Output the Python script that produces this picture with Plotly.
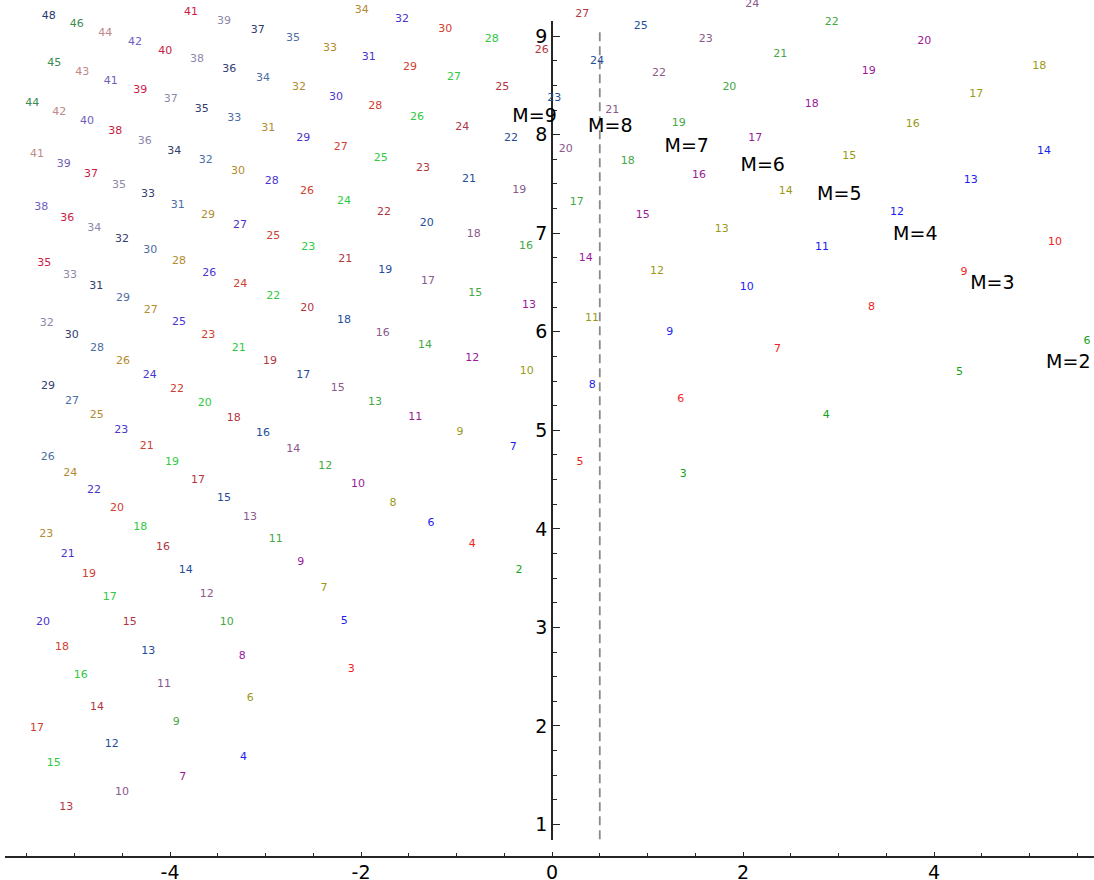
import plotly.graph_objects as go

# ---- series: one per M, labels are consecutive integers starting at FIRST_N ----
M_VALUES = [2, 3, 4, 5, 6, 7, 8, 9, 10, 11, 12, 13, 14, 15, 16, 17, 18, 19, 20, 21, 22]
FIRST_N = [2, 3, 4, 6, 7, 9, 10, 12, 13, 15, 17, 20, 23, 26, 29, 32, 35, 38, 41, 44, 48]
SERIES_COLORS = [
    "#16a316", "#f01e1e", "#1d1df0", "#9a9a16", "#9a1a9a", "#45a845", "#8a5a8a",
    "#1f4e9a", "#b3363f", "#2fca3f", "#cf4030", "#4a35cf", "#b38b30", "#4c6ea3",
    "#33406f", "#8c89aa", "#cc1a44", "#7060bb", "#c08888", "#3d8c50", "#26386e",
]
SERIES_X = [
    [-0.346, 1.373, 2.871, 4.266, 5.602],
    [-2.102, -0.835, 0.292, 1.347, 2.361, 3.345, 4.314, 5.267],
    [-3.230, -2.175, -1.267, -0.405, 0.422, 1.232, 2.039, 2.827, 3.613, 4.384, 5.152],
    [-3.159, -2.387, -1.665, -0.963, -0.265, 0.418, 1.099, 1.777, 2.447, 3.113, 3.777, 4.443, 5.103],
    [-3.866, -3.243, -2.631, -2.031, -1.431, -0.835, -0.241, 0.353, 0.950, 1.539, 2.129, 2.719, 3.316, 3.898],
    [-3.934, -3.406, -2.893, -2.374, -1.853, -1.330, -0.803, -0.272, 0.259, 0.793, 1.327, 1.857, 2.391, 2.929],
    [-4.503, -4.063, -3.616, -3.162, -2.709, -2.244, -1.773, -1.298, -0.820, -0.342, 0.143, 0.631, 1.120, 1.609, 2.096],
    [-4.611, -4.227, -3.836, -3.435, -3.026, -2.604, -2.178, -1.746, -1.312, -0.869, -0.429, 0.024, 0.471, 0.929],
    [-5.086, -4.764, -4.422, -4.073, -3.707, -3.333, -2.953, -2.562, -2.164, -1.759, -1.351, -0.939, -0.520, -0.108, 0.317],
    [-5.218, -4.935, -4.631, -4.311, -3.979, -3.637, -3.281, -2.918, -2.552, -2.178, -1.794, -1.414, -1.026, -0.631],
    [-5.393, -5.131, -4.848, -4.555, -4.244, -3.927, -3.599, -3.264, -2.918, -2.565, -2.213, -1.850, -1.487, -1.117],
    [-5.330, -5.071, -4.796, -4.510, -4.213, -3.906, -3.588, -3.267, -2.935, -2.604, -2.262, -1.919, -1.571],
    [-5.295, -5.044, -4.768, -4.492, -4.202, -3.906, -3.602, -3.288, -2.971, -2.649, -2.325, -1.993],
    [-5.281, -5.026, -4.764, -4.492, -4.206, -3.919, -3.626, -3.327, -3.026, -2.712],
    [-5.277, -5.029, -4.772, -4.503, -4.230, -3.955, -3.668, -3.379, -3.082],
    [-5.291, -5.047, -4.793, -4.534, -4.265, -3.993, -3.717, -3.435],
    [-5.316, -5.075, -4.827, -4.573, -4.311, -4.049, -3.780],
    [-5.348, -5.113, -4.869, -4.621, -4.366],
    [-5.393, -5.159, -4.918, -4.677],
    [-5.442, -5.212, -4.977],
    [-5.270],
]
SERIES_Y = [
    [3.593, 4.574, 5.172, 5.602, 5.923],
    [2.588, 3.855, 4.692, 5.331, 5.838, 6.261, 6.619, 6.928],
    [1.695, 3.082, 4.073, 4.844, 5.470, 6.008, 6.467, 6.870, 7.228, 7.553, 7.851],
    [2.294, 3.410, 4.276, 5.000, 5.612, 6.147, 6.624, 7.050, 7.438, 7.793, 8.121, 8.426, 8.707],
    [1.495, 2.720, 3.677, 4.468, 5.148, 5.747, 6.282, 6.759, 7.198, 7.604, 7.979, 8.328, 8.656, 8.960],
    [2.050, 3.065, 3.914, 4.648, 5.297, 5.879, 6.406, 6.887, 7.327, 7.743, 8.128, 8.491, 8.832, 9.153],
    [1.340, 2.439, 3.349, 4.130, 4.820, 5.442, 6.001, 6.525, 7.002, 7.449, 7.868, 8.260, 8.633, 8.984, 9.335],
    [1.830, 2.778, 3.600, 4.326, 4.983, 5.578, 6.129, 6.640, 7.117, 7.560, 7.983, 8.382, 8.757, 9.116],
    [1.188, 2.206, 3.065, 3.826, 4.513, 5.138, 5.720, 6.254, 6.751, 7.225, 7.675, 8.091, 8.491, 8.872, 9.234],
    [1.637, 2.527, 3.322, 4.032, 4.689, 5.290, 5.848, 6.373, 6.870, 7.334, 7.776, 8.196, 8.595, 8.981],
    [1.989, 2.811, 3.552, 4.229, 4.851, 5.432, 5.980, 6.495, 6.982, 7.438, 7.882, 8.298, 8.697, 9.082],
    [3.065, 3.762, 4.407, 5.013, 5.574, 6.109, 6.613, 7.093, 7.547, 7.983, 8.395, 8.798, 9.184],
    [3.961, 4.580, 5.165, 5.713, 6.234, 6.728, 7.198, 7.648, 8.078, 8.494, 8.889, 9.272],
    [4.746, 5.310, 5.845, 6.356, 6.840, 7.303, 7.750, 8.179, 8.588, 8.988],
    [5.457, 5.980, 6.474, 6.954, 7.411, 7.847, 8.273, 8.683, 9.079],
    [6.102, 6.593, 7.063, 7.506, 7.949, 8.372, 8.778, 9.170],
    [6.711, 7.171, 7.618, 8.047, 8.463, 8.866, 9.255],
    [7.279, 7.715, 8.146, 8.555, 8.957],
    [7.814, 8.240, 8.646, 9.045],
    [8.334, 8.737, 9.133],
    [9.221],
]

# ---- "M=k" captions ----
M_LABEL_VALUES = [2, 3, 4, 5, 6, 7, 8, 9]
M_LABEL_X = [5.406, 4.611, 3.804, 3.008, 2.206, 1.410, 0.610, -0.183]
M_LABEL_Y = [5.696, 6.492, 6.999, 7.395, 7.692, 7.892, 8.088, 8.192]

# ---- critical line Re = 1/2 ----
CRIT_X = [0.5, 0.5]
CRIT_Y = [0.85, 9.07]

# ---- axes ----
X_RANGE = [-5.728, 5.675]
Y_RANGE = [0.843, 9.153]          # visible y axis (line spans only this)
Y_TEXT_RANGE = [0.452, 9.381]     # same scale, whole figure height (for labels)
X_TICK_VALS = [-4, -2, 0, 2, 4]
X_TICK_TEXT = ["-4", "-2", "0", "2", "4"]
Y_TICK_VALS = [1, 2, 3, 4, 5, 6, 7, 8, 9]
Y_TICK_TEXT = ["1", "2", "3", "4", "5", "6", "7", "8", "9"]

FONT = "DejaVu Sans"
AXIS_COLOR = "#262626"

fig = go.Figure()

fig.add_trace(go.Scatter(
    x=CRIT_X, y=CRIT_Y, mode="lines", xaxis="x", yaxis="y",
    line=dict(color="#8a8a8a", width=1.8, dash="9px,5px"),
    showlegend=False, hoverinfo="skip",
))

for m, n0, col, xs, ys in zip(M_VALUES, FIRST_N, SERIES_COLORS, SERIES_X, SERIES_Y):
    fig.add_trace(go.Scatter(
        x=xs, y=ys, mode="text", xaxis="x2", yaxis="y2",
        text=[str(n0 + i) for i in range(len(xs))],
        textposition="middle center",
        textfont=dict(family=FONT, size=11, color=col),
        cliponaxis=False, showlegend=False, hoverinfo="skip", name=f"M={m}",
    ))

fig.add_trace(go.Scatter(
    x=M_LABEL_X, y=M_LABEL_Y, mode="text", xaxis="x2", yaxis="y2",
    text=[f"M={m}" for m in M_LABEL_VALUES],
    textposition="middle center",
    textfont=dict(family=FONT, size=19, color="black"),
    cliponaxis=False, showlegend=False, hoverinfo="skip",
))

fig.update_layout(
    width=1094, height=880,
    margin=dict(l=5, r=0, t=0, b=0, pad=0),
    paper_bgcolor="white", plot_bgcolor="rgba(0,0,0,0)",
    showlegend=False,
    xaxis=dict(
        range=X_RANGE, domain=[0, 1], anchor="free", position=23 / 880,
        showgrid=False, zeroline=False, automargin=False, fixedrange=True,
        showline=True, linecolor=AXIS_COLOR, linewidth=1.6,
        ticks="inside", ticklen=4, tickwidth=1.2, tickcolor=AXIS_COLOR,
        tickmode="array", tickvals=X_TICK_VALS, ticktext=X_TICK_TEXT,
        tickfont=dict(family=FONT, size=19, color="black"),
        ticklabelstandoff=-2,
        minor=dict(tickmode="linear", tick0=0, dtick=0.5, ticks="inside",
                   ticklen=3, tickwidth=1.2, tickcolor=AXIS_COLOR, showgrid=False),
    ),
    yaxis=dict(
        range=Y_RANGE, domain=[40 / 880, 859 / 880], anchor="free", position=547 / 1089,
        side="left",
        showgrid=False, zeroline=False, automargin=False, fixedrange=True,
        showline=True, linecolor=AXIS_COLOR, linewidth=1.8,
        ticks="inside", ticklen=7, tickwidth=1.2, tickcolor=AXIS_COLOR,
        tickmode="array", tickvals=Y_TICK_VALS, ticktext=Y_TICK_TEXT,
        tickfont=dict(family=FONT, size=19, color="black"),
        minor=dict(tickmode="linear", tick0=0, dtick=0.25, ticks="inside",
                   ticklen=4, tickwidth=1.2, tickcolor=AXIS_COLOR, showgrid=False),
    ),
    xaxis2=dict(range=X_RANGE, domain=[0, 1], anchor="y2", visible=False, fixedrange=True),
    yaxis2=dict(range=Y_TEXT_RANGE, domain=[0, 1], anchor="x2", visible=False, fixedrange=True),
)

fig.write_html(
    "out.html",
    config={"displayModeBar": False},
    post_script="document.body.style.margin='0';document.body.style.overflow='hidden';",
)
